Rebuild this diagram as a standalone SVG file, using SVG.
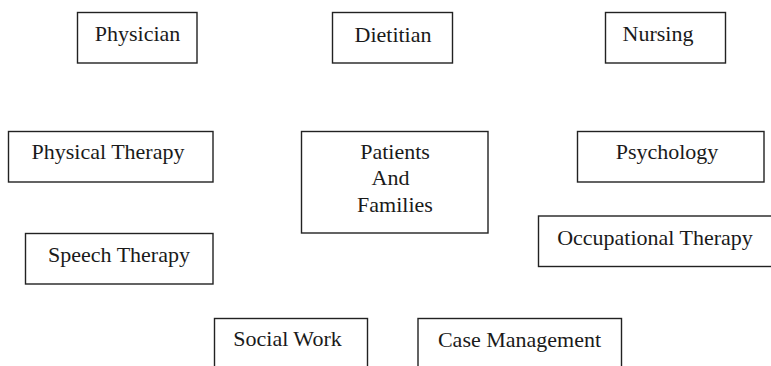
<svg xmlns="http://www.w3.org/2000/svg" width="771" height="366" viewBox="0 0 771 366">
<style>
  .box { fill: #ffffff; stroke: #222222; stroke-width: 1.4; }
  .lbl { font-family: "Liberation Serif", "Times New Roman", serif; font-size: 22px; fill: #1a1a1a; text-anchor: middle; }
</style>
<rect x="0" y="0" width="771" height="366" fill="#ffffff"/>
<g id="connectors"></g>
<g id="physician">
  <rect class="box" x="77.5" y="12.5" width="119.5" height="50.5"/>
  <text class="lbl" x="137.5" y="41">Physician</text>
</g>
<g id="dietitian">
  <rect class="box" x="332.5" y="12.5" width="120" height="50.5"/>
  <text class="lbl" x="393" y="42">Dietitian</text>
</g>
<g id="nursing">
  <rect class="box" x="605.5" y="12.5" width="120" height="50.5"/>
  <text class="lbl" x="658" y="41">Nursing</text>
</g>
<g id="physical-therapy">
  <rect class="box" x="8.5" y="131.5" width="204.5" height="50.5"/>
  <text class="lbl" x="108" y="159">Physical Therapy</text>
</g>
<g id="patients-and-families">
  <rect class="box" x="301.5" y="131.5" width="186.5" height="101.5"/>
  <text class="lbl" x="395" y="159">Patients</text>
  <text class="lbl" x="390.5" y="185">And</text>
  <text class="lbl" x="395" y="212">Families</text>
</g>
<g id="psychology">
  <rect class="box" x="577.5" y="131.5" width="186.5" height="50.5"/>
  <text class="lbl" x="667" y="159">Psychology</text>
</g>
<g id="speech-therapy">
  <rect class="box" x="25.5" y="233.5" width="187.5" height="50.5"/>
  <text class="lbl" x="119" y="262">Speech Therapy</text>
</g>
<g id="occupational-therapy">
  <rect class="box" x="538.5" y="216" width="245" height="50.5"/>
  <text class="lbl" x="655" y="245">Occupational Therapy</text>
</g>
<g id="social-work">
  <rect class="box" x="214.5" y="318.5" width="153" height="60"/>
  <text class="lbl" x="287.5" y="346">Social Work</text>
</g>
<g id="case-management">
  <rect class="box" x="418" y="318.5" width="203.5" height="60"/>
  <text class="lbl" x="519.5" y="347">Case Management</text>
</g>
</svg>
